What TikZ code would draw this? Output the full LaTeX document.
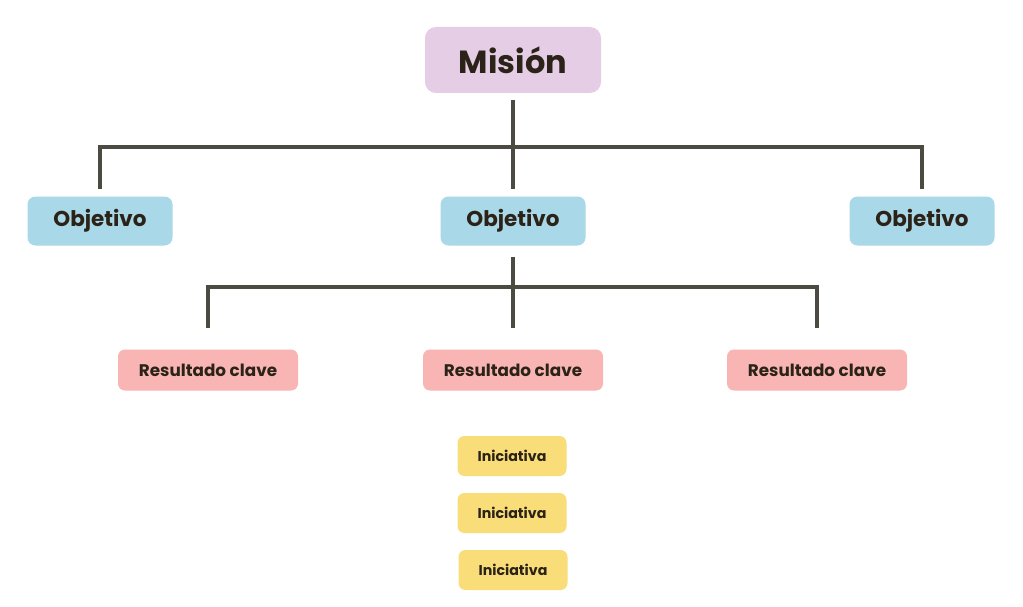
\documentclass[tikz,border=0pt]{standalone}
\usepackage{fontspec}
\setmainfont{Poppins}
\definecolor{txt}{HTML}{2B2218}
\definecolor{lin}{HTML}{4B4B42}
\definecolor{mis}{HTML}{E6CDE6}
\definecolor{obj}{HTML}{A9D8E8}
\definecolor{res}{HTML}{F8B5B4}
\definecolor{ini}{HTML}{F8DD78}
\tikzset{
  box/.style={rounded corners=8pt, inner sep=0pt, text=txt, font=\bfseries},
  misbox/.style={box, fill=mis, minimum width=176pt, minimum height=66pt, rounded corners=11pt, font=\bfseries\fontsize{32}{36}\selectfont},
  objbox/.style={box, fill=obj, minimum width=145pt, minimum height=49pt, font=\bfseries\fontsize{21.5}{25}\selectfont},
  resbox/.style={box, fill=res, minimum width=180pt, minimum height=41pt, rounded corners=7pt, font=\bfseries\fontsize{16.8}{20}\selectfont},
  inibox/.style={box, fill=ini, minimum width=109pt, minimum height=40pt, rounded corners=7pt, font=\bfseries\fontsize{14.2}{17}\selectfont},
  conn/.style={draw=lin, line width=3.2pt, shorten <=7pt, shorten >=7pt}
}
\begin{document}
\begin{tikzpicture}[x=1pt,y=-1pt]
\useasboundingbox[fill=white] (0,0) rectangle (1023,607);
\node[misbox] (mision) at (513,60) {Misión};
\node[objbox] (o1) at (100,221) {Objetivo};
\node[objbox] (o2) at (513,221) {Objetivo};
\node[objbox] (o3) at (922,221) {Objetivo};
\node[resbox] (r1) at (208,370) {Resultado clave};
\node[resbox] (r2) at (513,370) {Resultado clave};
\node[resbox] (r3) at (817,370) {Resultado clave};
\node[inibox] (i1) at (512,456) {Iniciativa};
\node[inibox] (i2) at (512,513) {Iniciativa};
\node[inibox] (i3) at (513,570) {Iniciativa};
\coordinate (bus1) at (513,147);
\coordinate (bus2) at (513,287);
\draw[conn] (mision.south) -- (o2.north);
\draw[conn] (o1.north) |- (bus1) -| (o3.north);
\draw[conn, shorten >=21pt, shorten <=11pt] (o2.south) -- (r2.north);
\draw[conn, shorten >=21pt, shorten <=21pt] (r1.north) |- (bus2) -| (r3.north);
\end{tikzpicture}
\end{document}
